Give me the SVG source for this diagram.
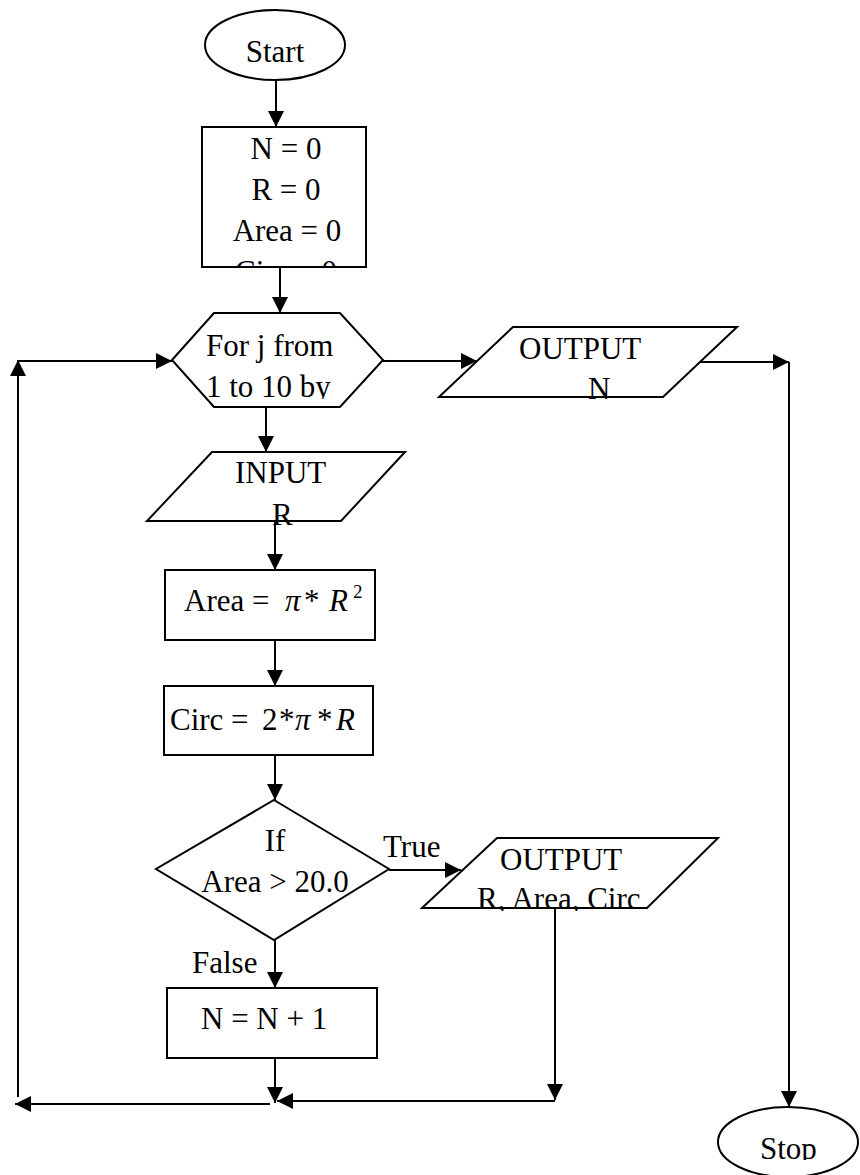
<svg xmlns="http://www.w3.org/2000/svg" width="860" height="1175" viewBox="0 0 860 1175">
  <style>
    .shape { fill: #ffffff; stroke: #000000; stroke-width: 2; }
    .wire { fill: none; stroke: #000000; stroke-width: 2; }
    text { font-family: "Liberation Serif", "Times New Roman", serif; font-size: 31px; fill: #000000; }
    .math { font-style: italic; }
    .sup { font-size: 19px; }
    .mid { text-anchor: middle; }
  </style>
  <defs>
    <marker id="arrow" markerUnits="userSpaceOnUse" markerWidth="17" markerHeight="16" refX="16" refY="8" orient="auto">
      <path d="M0,0 L16,8 L0,16 Z" fill="#000000"/>
    </marker>
    <clipPath id="clipInit"><rect x="200" y="125" width="170" height="143"/></clipPath>
    <clipPath id="clipLoop"><rect x="170" y="311" width="215" height="88"/></clipPath>
    <clipPath id="clipInput"><rect x="140" y="450" width="270" height="76"/></clipPath>
    <clipPath id="clipOutR"><rect x="415" y="836" width="310" height="75"/></clipPath>
    <clipPath id="clipStop"><rect x="715" y="1105" width="145" height="55"/></clipPath>
  </defs>

  <!-- connectors -->
  <g id="connectors">
    <line class="wire" x1="276" y1="80" x2="276" y2="127" marker-end="url(#arrow)"/>
    <line class="wire" x1="280" y1="267" x2="280" y2="313" marker-end="url(#arrow)"/>
    <line class="wire" x1="266" y1="407" x2="266" y2="452" marker-end="url(#arrow)"/>
    <line class="wire" x1="275" y1="521" x2="275" y2="570" marker-end="url(#arrow)"/>
    <line class="wire" x1="275" y1="640" x2="275" y2="686" marker-end="url(#arrow)"/>
    <line class="wire" x1="275" y1="755" x2="275" y2="800" marker-end="url(#arrow)"/>
    <line class="wire" x1="275" y1="940" x2="275" y2="988" marker-end="url(#arrow)"/>
    <line class="wire" x1="389" y1="870" x2="461" y2="870" marker-end="url(#arrow)"/>
    <line class="wire" x1="383" y1="361" x2="477" y2="361" marker-end="url(#arrow)"/>
    <line class="wire" x1="700" y1="362" x2="789" y2="362" marker-end="url(#arrow)"/>
    <line class="wire" x1="789" y1="362" x2="789" y2="1107" marker-end="url(#arrow)"/>
    <line class="wire" x1="275" y1="1058" x2="275" y2="1103" marker-end="url(#arrow)"/>
    <line class="wire" x1="555" y1="908" x2="555" y2="1100" marker-end="url(#arrow)"/>
    <line class="wire" x1="555" y1="1101" x2="277" y2="1101" marker-end="url(#arrow)"/>
    <line class="wire" x1="270" y1="1104" x2="15" y2="1104" marker-end="url(#arrow)"/>
    <line class="wire" x1="18" y1="1097" x2="18" y2="360" marker-end="url(#arrow)"/>
    <line class="wire" x1="18" y1="361" x2="172" y2="361" marker-end="url(#arrow)"/>
  </g>

  <!-- start terminal -->
  <g id="start">
    <ellipse class="shape" cx="275" cy="45" rx="70" ry="35"/>
    <text class="mid" x="275" y="62">Start</text>
  </g>

  <!-- initialisation -->
  <g id="init">
    <rect class="shape" x="202" y="127" width="164" height="140"/>
    <g clip-path="url(#clipInit)">
      <text class="mid" x="286" y="159">N = 0</text>
      <text class="mid" x="286" y="200">R = 0</text>
      <text class="mid" x="287" y="241">Area = 0</text>
      <text class="mid" x="286" y="282">Circ = 0</text>
    </g>
    <line class="wire" x1="202" y1="267" x2="366" y2="267"/>
  </g>

  <!-- loop header -->
  <g id="loop">
    <polygon class="shape" points="172,360 214,313 340,313 383,360 340,407 214,407"/>
    <g clip-path="url(#clipLoop)">
      <text x="206" y="356">For j from</text>
      <text x="206" y="397">1 to 10 by</text>
    </g>
  </g>

  <!-- count output -->
  <g id="output-n">
    <polygon class="shape" points="513,327 737,327 663,397 439,397"/>
    <text x="519" y="359">OUTPUT</text>
    <text x="588" y="399">N</text>
  </g>

  <!-- radius input -->
  <g id="input-r">
    <polygon class="shape" points="212,452 405,452 341,521 147,521"/>
    <g clip-path="url(#clipInput)">
      <text x="235" y="483">INPUT</text>
      <text x="272" y="525">R</text>
    </g>
  </g>

  <!-- area -->
  <g id="area">
    <rect class="shape" x="165" y="570" width="210" height="70"/>
    <text x="184" y="611">Area =</text>
    <text class="math" x="285" y="611">π</text>
    <text x="304" y="611">*</text>
    <text class="math" x="329" y="611">R</text>
    <text class="sup" x="353" y="598">2</text>
  </g>

  <!-- circumference -->
  <g id="circ">
    <rect class="shape" x="164" y="686" width="209" height="69"/>
    <text x="170" y="730">Circ =</text>
    <text x="262" y="730">2</text>
    <text x="279" y="730">*</text>
    <text class="math" x="295" y="730">π</text>
    <text x="317" y="730">*</text>
    <text class="math" x="336" y="730">R</text>
  </g>

  <!-- decision -->
  <g id="decision">
    <polygon class="shape" points="274,800 389,869 274,940 156,869"/>
    <text class="mid" x="275" y="851">If</text>
    <text class="mid" x="275" y="892">Area &gt; 20.0</text>
    <text x="383" y="857">True</text>
    <text x="192" y="973">False</text>
  </g>

  <!-- result output -->
  <g id="output-r">
    <polygon class="shape" points="497,838 718,838 647,908 422,908"/>
    <g clip-path="url(#clipOutR)">
      <text x="500" y="870">OUTPUT</text>
      <text x="477" y="909">R, Area, Circ</text>
    </g>
  </g>

  <!-- counter -->
  <g id="increment">
    <rect class="shape" x="167" y="988" width="210" height="70"/>
    <text x="201" y="1029">N = N + 1</text>
  </g>

  <!-- stop terminal -->
  <g id="stop">
    <ellipse class="shape" cx="788" cy="1142" rx="70" ry="35"/>
    <g clip-path="url(#clipStop)">
      <text x="760" y="1159">Stop</text>
    </g>
  </g>
</svg>
